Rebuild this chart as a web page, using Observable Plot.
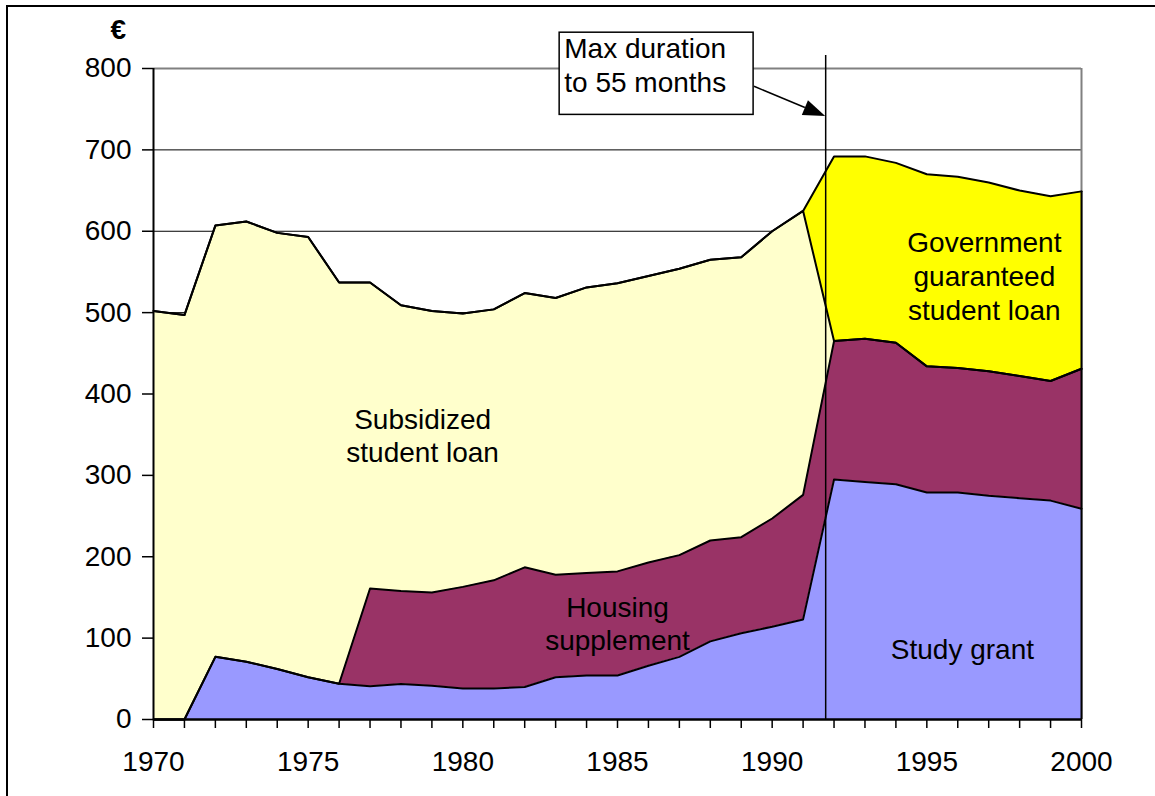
<!DOCTYPE html>
<html>
<head>
<meta charset="utf-8">
<script src="https://cdn.jsdelivr.net/npm/d3@7"></script>
<script src="https://cdn.jsdelivr.net/npm/@observablehq/plot@0.6"></script>
<style>
  html, body { margin: 0; padding: 0; background: #fff; overflow: hidden; }
  #wrap { position: relative; width: 1155px; height: 796px; }
  #border { position: absolute; left: 6px; top: 5px; width: 1160px; height: 800px; border: 2px solid #000; pointer-events: none; }
</style>
</head>
<body>
<div id="wrap"><div id="border"></div></div>
<script>
// ---- Data (€ per month) ----
const years = [1970,1971,1972,1973,1974,1975,1976,1977,1978,1979,1980,1981,1982,1983,1984,1985,1986,1987,1988,1989,1990,1991,1992,1993,1994,1995,1996,1997,1998,1999,2000];
const studyGrant = [0,0,77,71,62,52,44,41,43.5,41.5,38,38,40,52,54,54,66,77,96,106,114,123,295,292,289,279,279,275,272,269,259];
const housingSupplement = [0,0,0,0,0,0,0,120,114.5,114.5,125,133,147,126,126,128,127,125,124,118,133,153,170,176,174,155,153,153,150,147,172];
const subsidizedLoan = [502,497,530,541,536,541,493,376,351,346,336,333,337,340,351,354,352,352,345,344,353,349,0,0,0,0,0,0,0,0,0];
const guaranteedLoan = [0,0,0,0,0,0,0,0,0,0,0,0,0,0,0,0,0,0,0,0,0,0,227,224,221,236,235,232,228,227,218];

const seriesNames = ["Study grant", "Housing supplement", "Subsidized student loan", "Government guaranteed student loan"];
const seriesColors = ["#9999FF", "#993366", "#FFFFCC", "#FFFF00"];
const seriesValues = [studyGrant, housingSupplement, subsidizedLoan, guaranteedLoan];

const yTicks = [0,100,200,300,400,500,600,700,800];
const gridValues = [100,200,300,400,500,600,700];

// area labels (position in data space)
const areaLabels = [
  {year: 1978.7, value: 350, text: "Subsidized\nstudent loan"},
  {year: 1985.0, value: 119, text: "Housing\nsupplement"},
  {year: 1996.86, value: 546, text: "Government\nguaranteed\nstudent loan"},
  {year: 1996.15, value: 87, text: "Study grant"}
];

// annotation: reform marker
const reformYear = [1991.73];
const reformTop = 816;
const noteBox = [{x1: 1983.13, x2: 1989.40, y1: 743, y2: 844}];
const noteText = [{year: 1983.28, value: 805, text: "Max duration\nto 55 months"}];
const noteArrow = [{x1: 1989.43, y1: 777.5, x2: 1991.73, y2: 741}];

// ---- Build long table ----
const rows = [];
seriesNames.forEach((s, i) => {
  years.forEach((yr, j) => rows.push({year: yr, series: s, value: seriesValues[i][j]}));
});
const lastTotal = seriesValues.reduce((acc, arr) => acc + arr[arr.length - 1], 0);

function arrowMark(index, scales) {
  const ns = "http://www.w3.org/2000/svg";
  const g = document.createElementNS(ns, "g");
  for (const a of noteArrow) {
    const x1 = scales.x(a.x1), y1 = scales.y(a.y1), x2 = scales.x(a.x2), y2 = scales.y(a.y2);
    const ang = Math.atan2(y2 - y1, x2 - x1);
    const L = 22, W = 8;
    const bx = x2 - L * Math.cos(ang), by = y2 - L * Math.sin(ang);
    const line = document.createElementNS(ns, "line");
    line.setAttribute("x1", x1); line.setAttribute("y1", y1);
    line.setAttribute("x2", bx); line.setAttribute("y2", by);
    line.setAttribute("stroke", "black"); line.setAttribute("stroke-width", "1.5");
    g.appendChild(line);
    const px = -Math.sin(ang), py = Math.cos(ang);
    const poly = document.createElementNS(ns, "polygon");
    poly.setAttribute("points", `${x2},${y2} ${bx + W * px},${by + W * py} ${bx - W * px},${by - W * py}`);
    poly.setAttribute("fill", "black");
    g.appendChild(poly);
  }
  return g;
}

const chart = Plot.plot({
  width: 1155,
  height: 796,
  marginTop: 68,
  marginLeft: 153,
  marginRight: 74,
  marginBottom: 77,
  style: {fontFamily: "'Liberation Sans', Arial, sans-serif", fontSize: "28px", background: "transparent", color: "black", overflow: "visible"},
  x: {domain: [1970, 2000]},
  y: {domain: [0, 800]},
  color: {domain: seriesNames, range: seriesColors},
  marks: [
    Plot.ruleY(gridValues, {stroke: "black", strokeWidth: 1}),
    Plot.ruleY([800], {stroke: "#808080", strokeWidth: 2}),
    Plot.ruleX([2000], {y1: 0, y2: 800, stroke: "#808080", strokeWidth: 2}),
    Plot.areaY(rows, {x: "year", y: "value", z: "series", fill: "series", order: seriesNames}),
    Plot.lineY(rows, Plot.stackY2({x: "year", y: "value", z: "series", order: seriesNames, stroke: "black", strokeWidth: 2})),
    Plot.ruleX([2000], {y1: 0, y2: lastTotal, stroke: "black", strokeWidth: 2}),
    Plot.ruleX(reformYear, {y1: 0, y2: reformTop, stroke: "black", strokeWidth: 1.5, clip: false}),
    Plot.text(areaLabels, {x: "year", y: "value", text: "text", lineHeight: 1.2, fill: "black"}),
    Plot.rect(noteBox, {x1: "x1", x2: "x2", y1: "y1", y2: "y2", fill: "white", stroke: "black", strokeWidth: 1.5}),
    Plot.text(noteText, {x: "year", y: "value", text: "text", textAnchor: "start", lineHeight: 1.22, fill: "black"}),
    arrowMark,
    Plot.ruleX([1970], {y1: 0, y2: 800, stroke: "black", strokeWidth: 2}),
    Plot.ruleY([0], {stroke: "black", strokeWidth: 2.5}),
    Plot.axisY({ticks: yTicks, tickSize: 11, tickPadding: 11, tickFormat: d => String(d), label: null, stroke: "black", strokeWidth: 1.5}),
    Plot.axisX({ticks: years, tickSize: 9, tickPadding: 23, tickFormat: d => (d % 5 === 0 ? String(d) : ""), label: null, stroke: "black", strokeWidth: 1.5}),
    Plot.text(["€"], {frameAnchor: "top-left", lineAnchor: "middle", dx: -43, dy: -38, text: d => d, fontWeight: "bold", fill: "black"})
  ]
});
document.getElementById("wrap").prepend(chart);
</script>
</body>
</html>
